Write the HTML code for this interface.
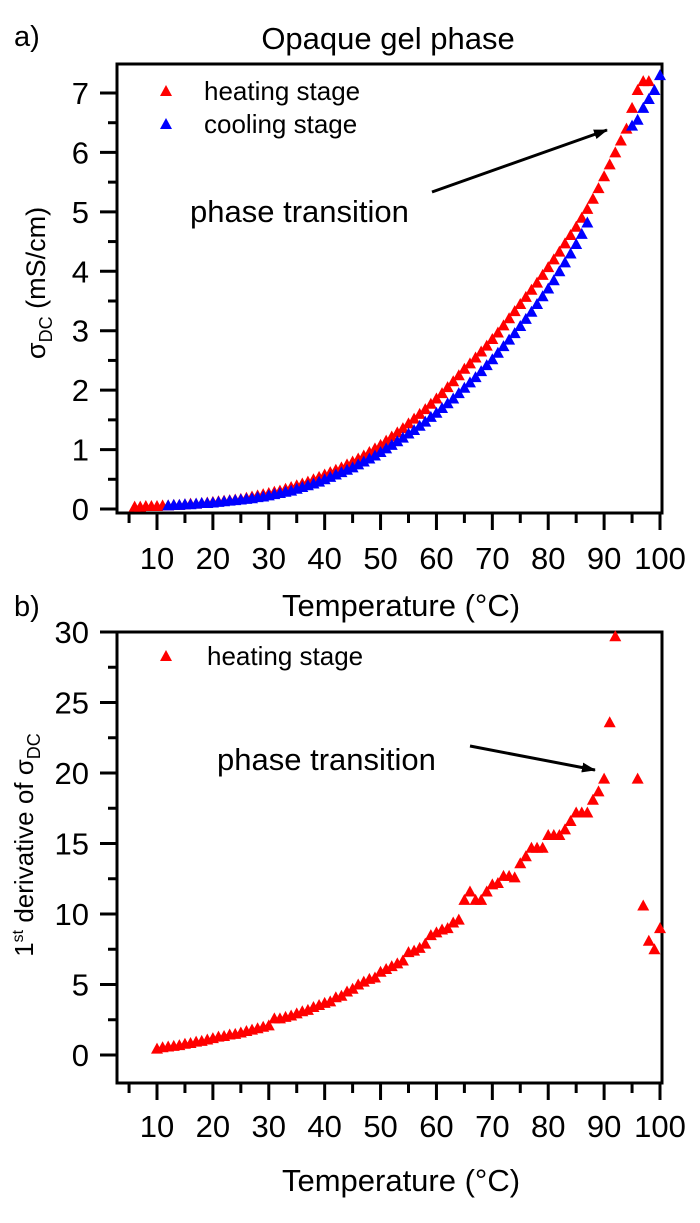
<!DOCTYPE html>
<html><head><meta charset="utf-8"><style>
body{margin:0;background:#fff;}
svg text{font-family:"Liberation Sans",Arial,sans-serif;fill:#000;}
</style></head><body>
<svg id="s" width="700" height="1218" viewBox="0 0 700 1218" xmlns="http://www.w3.org/2000/svg">
<text x="14" y="46" font-size="29">a)</text>
<text x="388" y="49" font-size="31" text-anchor="middle">Opaque gel phase</text>
<text x="14" y="616" font-size="29">b)</text>
<g id="gA"></g>
<g id="gB"></g>
</svg>
<script>
const xTicks=[10,20,30,40,50,60,70,80,90,100];
const yTicksA=[0,1,2,3,4,5,6,7];
const yTicksB=[0,5,10,15,20,25,30];
const heatT=[6,7,8,9,10,11,12,13,14,15,16,17,18,19,20,21,22,23,24,25,26,27,28,29,30,31,32,33,34,35,36,37,38,39,40,41,42,43,44,45,46,47,48,49,50,51,52,53,54,55,56,57,58,59,60,61,62,63,64,65,66,67,68,69,70,71,72,73,74,75,76,77,78,79,80,81,82,83,84,85,86,87,88,89,90,91,92,93,94,95,96,97,98];
const heatV=[0.04,0.04,0.05,0.05,0.05,0.06,0.06,0.07,0.07,0.08,0.09,0.09,0.10,0.11,0.12,0.13,0.14,0.15,0.16,0.17,0.19,0.21,0.23,0.25,0.27,0.29,0.31,0.34,0.37,0.40,0.43,0.46,0.50,0.54,0.58,0.62,0.66,0.70,0.75,0.80,0.85,0.90,0.96,1.02,1.08,1.15,1.22,1.29,1.36,1.44,1.52,1.60,1.68,1.77,1.86,1.95,2.05,2.15,2.25,2.36,2.45,2.55,2.65,2.75,2.86,2.97,3.09,3.21,3.33,3.45,3.57,3.69,3.81,3.94,4.07,4.20,4.33,4.47,4.61,4.75,4.90,5.05,5.22,5.40,5.60,5.80,6.00,6.20,6.40,6.75,7.05,7.2,7.2];
const coolT=[12,13,14,15,16,17,18,19,20,21,22,23,24,25,26,27,28,29,30,31,32,33,34,35,36,37,38,39,40,41,42,43,44,45,46,47,48,49,50,51,52,53,54,55,56,57,58,59,60,61,62,63,64,65,66,67,68,69,70,71,72,73,74,75,76,77,78,79,80,81,82,83,84,85,86,87,95,96,97,98,99,100];
const coolV=[0.06,0.07,0.07,0.08,0.08,0.09,0.10,0.10,0.11,0.12,0.13,0.14,0.15,0.16,0.17,0.18,0.20,0.21,0.23,0.25,0.27,0.29,0.31,0.34,0.37,0.40,0.43,0.46,0.50,0.54,0.58,0.62,0.66,0.70,0.75,0.80,0.85,0.90,0.96,1.02,1.08,1.14,1.20,1.27,1.33,1.40,1.47,1.55,1.62,1.70,1.78,1.86,1.95,2.04,2.13,2.22,2.32,2.42,2.52,2.63,2.74,2.85,2.96,3.08,3.20,3.32,3.45,3.58,3.71,3.85,4.00,4.15,4.30,4.46,4.63,4.82,6.45,6.55,6.75,6.9,7.05,7.3];
const derT=[10,11,12,13,14,15,16,17,18,19,20,21,22,23,24,25,26,27,28,29,30,31,32,33,34,35,36,37,38,39,40,41,42,43,44,45,46,47,48,49,50,51,52,53,54,55,56,57,58,59,60,61,62,63,64,65,66,67,68,69,70,71,72,73,74,75,76,77,78,79,80,81,82,83,84,85,86,87,88,89,90,91,92,96,97,98,99,100];
const derV=[0.45,0.55,0.6,0.65,0.7,0.8,0.85,0.95,1.0,1.1,1.2,1.3,1.35,1.45,1.5,1.6,1.7,1.8,1.9,2.0,2.1,2.6,2.6,2.7,2.8,2.95,3.1,3.2,3.4,3.55,3.7,3.8,4.1,4.2,4.5,4.7,5.0,5.2,5.4,5.5,5.9,6.1,6.3,6.5,6.7,7.3,7.4,7.6,7.9,8.5,8.7,8.9,9.0,9.4,9.6,11.0,11.6,11.0,11.0,11.6,12.1,12.2,12.7,12.7,12.6,13.6,14.1,14.7,14.7,14.7,15.6,15.6,15.6,16.0,16.6,17.2,17.2,17.2,18.1,18.7,19.6,23.6,29.7,19.6,10.6,8.1,7.5,9.0];

const NS='http://www.w3.org/2000/svg';
function mk(p,t,a){const e=document.createElementNS(NS,t);for(const k in a)e.setAttribute(k,a[k]);p.appendChild(e);return e;}
const L=117,R=662;
const xs=v=>157+(v-10)*(660-157)/90;
function tri(g,x,y,c){return mk(g,'polygon',{points:`${x-6},${y+5} ${x+6},${y+5} ${x},${y-6}`,fill:c});}

function axes(g,T,B,ys,yTicks,minorStep,labelY){
  for(let v=5;v<=100;v+=5){const x=xs(v);const major=v%10===0;
    const t=mk(g,'line',{x1:x,x2:x,y1:B,y2:B+(major?17:10),stroke:'#000','stroke-width':3});
    
    
    if(major){const l=mk(g,'text',{x:x,y:labelY,'font-size':31,'text-anchor':'middle'});l.textContent=v;
      
      }}
  const top=yTicks[yTicks.length-1];
  for(let v=yTicks[0];v<=top+1e-9;v+=minorStep){const y=ys(v);const major=yTicks.some(t=>Math.abs(t-v)<1e-9);
    const t=mk(g,'line',{x1:L,x2:L-(major?17:9),y1:y,y2:y,stroke:'#000','stroke-width':3});
    
    }
  yTicks.forEach(v=>{const l=mk(g,'text',{x:89,y:ys(v)+11,'font-size':31,'text-anchor':'end'});l.textContent=v;
    
    });
  const b=mk(g,'rect',{x:L,y:T,width:R-L,height:B-T,fill:'none',stroke:'#000','stroke-width':3});
  
  
}
const gA=document.getElementById('gA');
const ysA=v=>509-v*(509-93)/7;
axes(gA,64,513,ysA,yTicksA,0.5,569);
heatT.forEach((t,i)=>{const e=tri(gA,xs(t),ysA(heatV[i]),'#ff0000');
  
  });
coolT.forEach((t,i)=>{const e=tri(gA,xs(t),ysA(coolV[i]),'#0000ff');
  
  });
const gB=document.getElementById('gB');
const ysB=v=>1055-v*(1055-632)/30;
axes(gB,632,1083,ysB,yTicksB,2.5,1137);
derT.forEach((t,i)=>{const e=tri(gB,xs(t),ysB(derV[i]),'#ff0000');
  
  });
</script>
<svg width="700" height="1218" style="position:absolute;left:0;top:0" xmlns="http://www.w3.org/2000/svg">
<defs><marker id="ar" markerWidth="14" markerHeight="10" refX="13" refY="5" orient="auto" markerUnits="userSpaceOnUse"><polygon points="0,0 14,5 0,10" fill="#000"/></marker></defs>
<polygon points="160,96 172,96 166,85" fill="#ff0000"/>
<text x="204" y="100" font-size="26">heating stage</text>
<polygon points="160,129 172,129 166,118" fill="#0000ff"/>
<text x="204" y="133" font-size="26">cooling stage</text>
<text x="190" y="222" font-size="31">phase transition</text>
<line x1="432" y1="192" x2="607" y2="130" stroke="#000" stroke-width="3" marker-end="url(#ar)"/>
<text transform="translate(45,283) rotate(-90)" font-size="27" text-anchor="middle">σ<tspan font-size="18" dy="7">DC</tspan><tspan dy="-7"> (mS/cm)</tspan></text>
<text x="401" y="616" font-size="31" text-anchor="middle">Temperature (°C)</text>
<polygon points="160,661 172,661 166,650" fill="#ff0000"/>
<text x="207" y="665" font-size="26">heating stage</text>
<text x="217" y="770" font-size="31">phase transition</text>
<line x1="470" y1="746" x2="595" y2="770" stroke="#000" stroke-width="3" marker-end="url(#ar)"/>
<text transform="translate(33,845) rotate(-90)" font-size="26" text-anchor="middle">1<tspan font-size="16" dy="-10">st</tspan><tspan dy="10"> derivative of σ</tspan><tspan font-size="18" dy="7">DC</tspan></text>
<text x="401" y="1191" font-size="31" text-anchor="middle">Temperature (°C)</text>
</svg>
</body></html>
